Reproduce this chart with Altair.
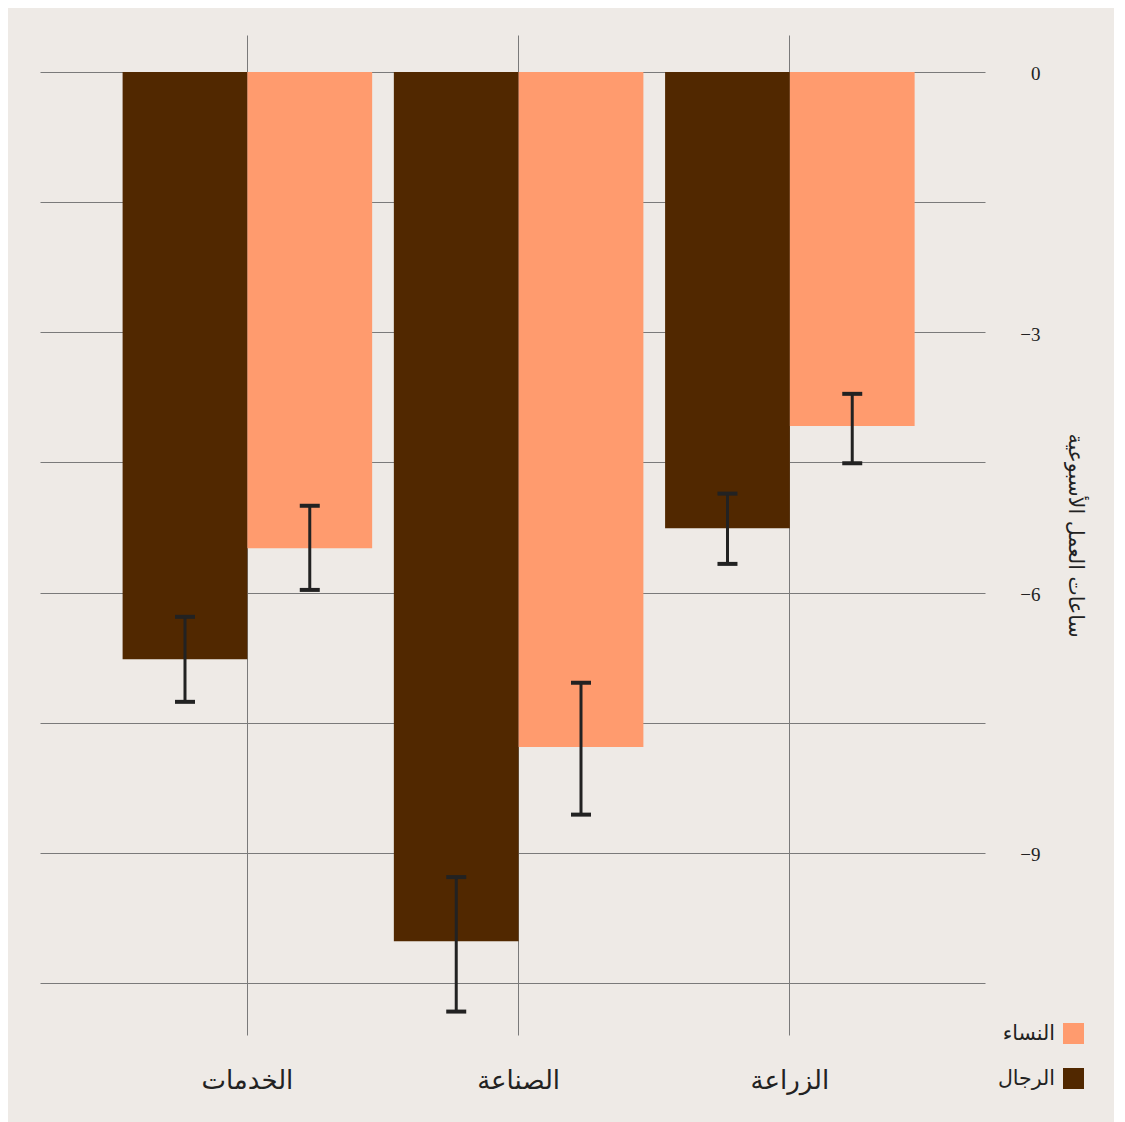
import altair as alt
import pandas as pd

sectors = ["الخدمات", "الصناعة", "الزراعة"]
groups = ["الرجال", "النساء"]
sector_col = ["الخدمات", "الخدمات", "الصناعة", "الصناعة", "الزراعة", "الزراعة"]
group_col = ["الرجال", "النساء", "الرجال", "النساء", "الرجال", "النساء"]
values = [-6.77, -5.49, -10.02, -7.78, -5.26, -4.08]
err_high = [-6.28, -5.00, -9.28, -7.04, -4.86, -3.71]
err_low = [-7.26, -5.97, -10.83, -8.56, -5.67, -4.51]
grid_ticks = [-10.5, -9, -7.5, -6, -4.5, -3, -1.5, 0]
colors = ["#512800", "#FF9B6E"]

df = pd.DataFrame({
    "sector": sector_col,
    "group": group_col,
    "value": values,
    "hi": err_high,
    "lo": err_low,
})

AR_FONT = "DejaVu Sans"

x_scale = alt.Scale(domain=sectors, paddingInner=0.08, paddingOuter=0.282, align=0.54)
y_scale = alt.Scale(domain=[-11.10, 0.426], nice=False, zero=False)
off_scale = alt.Scale(domain=groups, paddingInner=0, paddingOuter=0)

x_enc = alt.X("sector:N", scale=x_scale, sort=sectors,
              axis=alt.Axis(title=None, orient="bottom", grid=True, bandPosition=0.5,
                            gridColor="#7a7a7a", gridWidth=1, domain=False, ticks=False,
                            labelFont=AR_FONT, labelFontSize=26, labelColor="#222222",
                            labelPadding=32, labelAngle=0))

y_enc = alt.Y("value:Q", scale=y_scale,
              axis=alt.Axis(orient="right", values=grid_ticks, grid=True,
                            gridColor="#7a7a7a", gridWidth=1, domain=False, ticks=False,
                            labelExpr="datum.value % 3 == 0 ? (datum.value < 0 ? '−' + format(-datum.value, 'd') : format(datum.value, 'd')) : ''",
                            labelFont="Liberation Serif", labelFontSize=19, labelColor="#222222",
                            labelAlign="right", labelPadding=55, labelBaseline="middle",
                            labelOffset=2,
                            title="ساعات العمل الأسبوعية", titleFont=AR_FONT, titleFontSize=20.5,
                            titleFontWeight="normal", titleColor="#222222", titleAngle=90,
                            titlePadding=24))

base = alt.Chart(df)

bars = base.mark_bar(opacity=1).encode(
    x=x_enc,
    xOffset=alt.XOffset("group:N", scale=off_scale, sort=groups),
    y=y_enc,
    y2=alt.datum(0),
    color=alt.Color("group:N", scale=alt.Scale(domain=groups, range=colors),
                    sort=["النساء", "الرجال"],
                    legend=alt.Legend(title=None, orient="none", legendX=1023, legendY=988,
                                      symbolType="square", symbolSize=441, symbolStrokeWidth=0,
                                      symbolOpacity=1,
                                      labelFont=AR_FONT, labelFontSize=20.5, labelColor="#222222",
                                      labelAlign="right", labelOffset={"expr": "-29"}, rowPadding=24,
                                      values=["النساء", "الرجال"])),
)

rules = base.mark_rule(color="#222222", strokeWidth=3).encode(
    x=alt.X("sector:N", scale=x_scale, sort=sectors),
    xOffset=alt.XOffset("group:N", scale=off_scale, sort=groups),
    y=alt.Y("hi:Q", scale=y_scale),
    y2="lo:Q",
)

caps_hi = base.mark_tick(color="#222222", size=20, thickness=4, opacity=1).encode(
    x=alt.X("sector:N", scale=x_scale, sort=sectors),
    xOffset=alt.XOffset("group:N", scale=off_scale, sort=groups),
    y=alt.Y("hi:Q", scale=y_scale),
)
caps_lo = base.mark_tick(color="#222222", size=20, thickness=4, opacity=1).encode(
    x=alt.X("sector:N", scale=x_scale, sort=sectors),
    xOffset=alt.XOffset("group:N", scale=off_scale, sort=groups),
    y=alt.Y("lo:Q", scale=y_scale),
)

chart = alt.layer(bars, rules, caps_hi, caps_lo).properties(
    width=945, height=1000,
    background="#EEEAE6",
    padding={"left": 32, "top": 27, "right": 30, "bottom": 36},
).configure_view(stroke=None)

chart.save("out.html", embed_options={"renderer": "svg", "actions": False})
